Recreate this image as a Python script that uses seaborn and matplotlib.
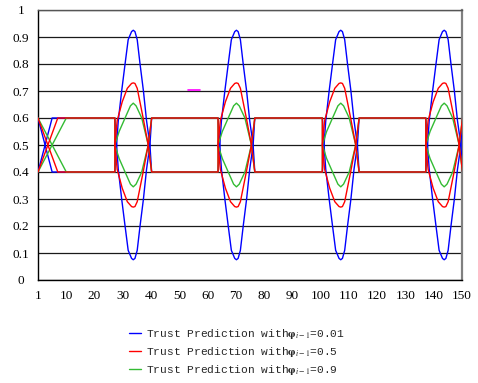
import numpy as np
import pandas as pd
import matplotlib
matplotlib.use('Agg')
import matplotlib.pyplot as plt
import seaborn as sns
from matplotlib.lines import Line2D

# ---------------- data ----------------
series_names = ['0.01', '0.5', '0.9']
series_colors = ['#0000FF', '#FF0000', '#33BB33']
# time step where the initial crossing ramps reach the 0.4 / 0.6 levels
ramp_end = [5.0, 7.0, 10.0]
# time steps where each lens-shaped prediction burst starts
cycle_starts = [27.2, 63.7, 100.6, 137.2]
flat_high = 0.6
flat_low = 0.4

# upper half of a burst: offset from cycle start, trust value
blue_offsets = [0.6, 1.2, 2.4, 3.6, 4.7, 5.9, 6.5, 7.1, 7.9, 8.9, 10.1, 11.2, 12.4, 13.0]
blue_values = [0.50, 0.59, 0.70, 0.80, 0.89, 0.92, 0.925, 0.92, 0.89, 0.80, 0.70, 0.59, 0.50, 0.40]
red_offsets = [0.0, 0.8, 2.6, 4.4, 5.9, 6.5, 7.1, 7.9, 10.0, 11.8, 13.0]
red_values = [0.50, 0.59, 0.66, 0.71, 0.728, 0.73, 0.728, 0.71, 0.60, 0.50, 0.40]
green_offsets = [0.0, 1.5, 3.6, 5.5, 6.5, 7.5, 9.5, 11.8, 13.0]
green_values = [0.50, 0.55, 0.60, 0.645, 0.655, 0.645, 0.60, 0.50, 0.40]

lens_offsets = [blue_offsets, red_offsets, green_offsets]
lens_values = [blue_values, red_values, green_values]

# small magenta mark seen in the reference
mark_x = [53.1, 57.3]
mark_y = [0.703, 0.703]

x_tick_pos = [0, 10, 20, 30, 40, 50, 60, 70, 80, 90, 100, 110, 120, 130, 140, 150]
x_tick_labels = ['1', '10', '20', '30', '40', '50', '60', '70', '80', '90',
                 '100', '110', '120', '130', '140', '150']
y_ticks = [0, 0.1, 0.2, 0.3, 0.4, 0.5, 0.6, 0.7, 0.8, 0.9, 1.0]
y_tick_labels = ['0', '0.1', '0.2', '0.3', '0.4', '0.5', '0.6', '0.7', '0.8', '0.9', '1']

# ---------------- build long table ----------------
rows = []
for si, name in enumerate(series_names):
    for pi, (start_v, end_v, sign) in enumerate([(flat_high, flat_low, 1), (flat_low, flat_high, -1)]):
        pts = [(0.0, start_v), (ramp_end[si], end_v)]
        for s in cycle_starts:
            pts.append((s, end_v))
            for o, v in zip(lens_offsets[si], lens_values[si]):
                val = v if sign == 1 else (flat_low + flat_high) - v
                pts.append((s + o, val))
        if pts[-1][0] < 150:
            pts.append((150.0, end_v))
        for order, (t, v) in enumerate(pts):
            rows.append(dict(t=t, value=v, series=name, path=f'{name}-{pi}', order=order))
df = pd.DataFrame(rows)

# ---------------- figure ----------------
sns.set_style('white')
plt.rcParams['font.family'] = ['Liberation Serif', 'DejaVu Serif']
plt.rcParams['mathtext.fontset'] = 'stix'

fig = plt.figure(figsize=(4.78, 3.83), dpi=100)
ax = fig.add_axes([38 / 478, 1 - 280 / 383, (462 - 38) / 478, 270 / 383])

draw_order = [0, 2, 1]
for z, si in enumerate(draw_order):
    name = series_names[si]
    sub = df[df.series == name]
    sns.lineplot(data=sub, x='t', y='value', units='path', estimator=None, sort=False,
                 color=series_colors[si], linewidth=1.0, ax=ax, legend=False, zorder=3 + z)

ax.plot(mark_x, mark_y, color='#FF00FF', linewidth=1.2, zorder=3)

ax.set_xlim(0, 150)
ax.set_ylim(0, 1)
ax.set_xticks(x_tick_pos)
ax.set_xticklabels(x_tick_labels, fontsize=9.5)
ax.set_yticks(y_ticks)
ax.set_yticklabels(y_tick_labels, fontsize=9.5)
for lab in ax.get_yticklabels():
    lab.set_horizontalalignment('center')
ax.tick_params(axis='y', direction='out', length=3, width=0.8, pad=9.3, colors='black')
ax.tick_params(axis='x', direction='out', length=3, width=0.8, pad=4, colors='black')
ax.set_xlabel('')
ax.set_ylabel('')

ax.yaxis.grid(True, color='#1a1a1a', linewidth=0.9)
ax.xaxis.grid(False)
ax.set_axisbelow(True)
for sp in ['left', 'bottom']:
    ax.spines[sp].set_color('black')
    ax.spines[sp].set_linewidth(1.0)
ax.spines['right'].set_color('#808080')
ax.spines['right'].set_linewidth(1.6)
ax.spines['top'].set_color('#555555')
ax.spines['top'].set_linewidth(1.0)

handles = [Line2D([0], [0], color=c, linewidth=1.0) for c in series_colors]
labels = [r'Trust Prediction with$\boldsymbol{\varphi}_{i-1}$=' + n for n in series_names]
leg = fig.legend(handles, labels, loc='center', bbox_to_anchor=(0.495, 0.081), frameon=False,
                 prop={'family': 'Liberation Mono', 'size': 8.1}, handlelength=1.1,
                 handletextpad=0.4, labelspacing=0.35)

fig.savefig('out.png', dpi=100)
